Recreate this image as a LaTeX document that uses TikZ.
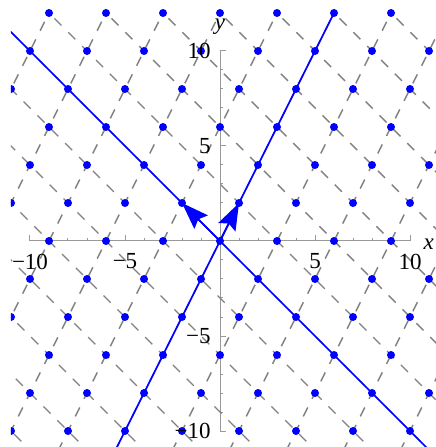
\documentclass[tikz,border=0pt]{standalone}
\usepackage{fontspec}
\setmainfont{Liberation Serif}
\usetikzlibrary{arrows.meta}

\begin{document}
\begin{tikzpicture}[x=9.5pt,y=9.5pt,>={Stealth[length=13.5pt,width=9.5pt,inset=2pt]},
  asse/.style={gray!80,line width=0.5pt},
  retta/.style={black!50,line width=0.7pt,dash pattern=on 5pt off 4.8pt},
  vettore/.style={blue,line width=0.85pt},
  punto/.style={blue},
  etich/.style={font=\fontsize{11.5}{13}\selectfont,inner sep=0pt}]
  \useasboundingbox (-11.579,-10.842) rectangle (11.316,12.684);
  \draw[asse] (-10,0) -- (10,0);
  \draw[asse] (0,-10) -- (0,10);
  \foreach \t in {-10,...,10} {
    \draw[asse] (\t,0) -- ++(0,0.18);
    \draw[asse] (0,\t) -- ++(0.18,0);
  }
  \foreach \t in {-10,-5,5,10} {
    \draw[asse] (\t,0) -- ++(0,0.32);
    \draw[asse] (0,\t) -- ++(0.32,0);
  }
  \begin{scope}
    \clip (-11,-11) rectangle (11.4,12);
    \foreach \m in {-7,...,7} {
      \draw[retta] ({3*\m-6},-12) -- ({3*\m+6},12);
      \draw[retta] ({3*\m+12},-12) -- ({3*\m-12},12);
    }
    \draw[vettore] (-6,-12) -- (6,12);
    \draw[vettore] (12,-12) -- (-12,12);
  \end{scope}
  \begin{scope}
    \clip (-11,-11) rectangle (11.4,12.7);
    \foreach \k in {-6,...,6}
      \foreach \j in {-6,...,6}
        \fill[punto] ({\k+3*\j},{2*\k}) circle (2pt);
  \end{scope}
  \coordinate (O) at (0,0);
  \coordinate (v1) at (1,2);
  \coordinate (v2) at (-2,2);
  \draw[vettore,->] (O) -- (v1);
  \draw[vettore,->] (O) -- (v2);
  \foreach \t/\s in {-10/−10,-5/−5,5/5,10/10} {
    \node[etich,anchor=north] (lx\t) at (\t,-0.65) {\s};
    \node[etich,anchor=east] (ly\t) at (-0.47,\t) {\s};
  }
  \node[etich,anchor=base] (ly) at (0,11.15) {\textit{y}};
  \node[etich,anchor=west] (lx) at (10.7,-0.15) {\textit{x}};
\end{tikzpicture}
\end{document}
